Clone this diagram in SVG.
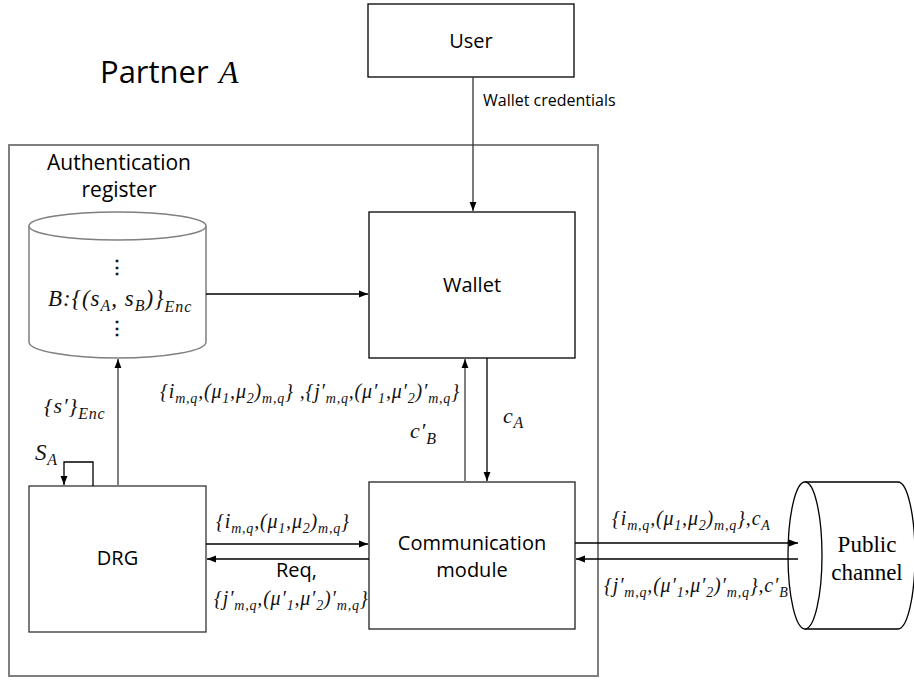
<svg xmlns="http://www.w3.org/2000/svg" width="914" height="680" viewBox="0 0 914 680">
<defs>
<marker id="ah" viewBox="0 0 10 10" refX="10" refY="5" markerWidth="9" markerHeight="9" markerUnits="userSpaceOnUse" orient="auto"><path d="M0,1.2 L10,5 L0,8.8 z" fill="#000"/></marker>
<style>
.box{fill:#fff;stroke:#000;stroke-width:1.3}
.gbox{fill:none;stroke:#7f7f7f;stroke-width:2}
.cyl{fill:#fff;stroke:#7f7f7f;stroke-width:1.5}
.t{font-family:"Open Sans","Liberation Sans",sans-serif;font-size:20px;fill:#000}
.sm{font-size:16px}
.m{font-family:"Liberation Serif",serif;font-style:italic;font-size:20px;fill:#111;letter-spacing:0.8px}
.s{font-size:14px}
.pc{font-family:"Liberation Serif",serif;font-size:23px;fill:#000}
.ln{fill:none;stroke:#000;stroke-width:1.3}
.gl{fill:none;stroke:#7f7f7f;stroke-width:2}
</style>
</defs>

<rect id="partner" class="gbox" x="9" y="145" width="589" height="531"/>
<text class="t" x="100" y="83" style="font-size:31px">Partner<tspan x="219" style="font-family:'Liberation Serif',serif;font-style:italic;font-size:32px">A</tspan></text>

<g id="user">
<rect class="box" x="368" y="4" width="206" height="73"/>
<text class="t" x="471" y="48" text-anchor="middle">User</text>
</g>

<g id="register">
<text class="t" x="119" y="170" text-anchor="middle" style="font-size:21px">Authentication</text>
<text class="t" x="119" y="197" text-anchor="middle" style="font-size:21px">register</text>
<path class="cyl" d="M29,226 V342 A88.5,16 0 0 0 206,342 V226"/>
<ellipse class="cyl" cx="117.5" cy="226" rx="88.5" ry="14"/>
<text class="m" x="117" y="273" text-anchor="middle" style="font-style:normal;font-weight:bold;font-size:18px">⋮</text>
<text class="m" x="48" y="306" style="font-size:23px;letter-spacing:1px">B:{(s<tspan class="s" dy="5" style="font-size:16px">A</tspan><tspan dy="-5">, s</tspan><tspan class="s" dy="5" style="font-size:16px">B</tspan><tspan dy="-5">)}</tspan><tspan class="s" dy="6" style="font-size:16px">Enc</tspan></text>
<text class="m" x="117" y="334" text-anchor="middle" style="font-style:normal;font-weight:bold;font-size:18px">⋮</text>
</g>

<g id="wallet">
<rect class="box" x="369" y="212" width="206" height="146"/>
<text class="t" x="472" y="292" text-anchor="middle">Wallet</text>
</g>

<g id="drg">
<rect class="box" x="29" y="486" width="177" height="146" style="stroke:#333"/>
<text class="t" x="117.5" y="565" text-anchor="middle">DRG</text>
</g>

<g id="comm">
<rect class="box" x="369" y="482" width="206" height="147" style="stroke:#222"/>
<text class="t" x="472" y="550" text-anchor="middle">Communication</text>
<text class="t" x="472" y="577" text-anchor="middle">module</text>
</g>

<g id="public">
<path class="box" d="M805,482 H898 A17,73.5 0 0 1 898,629 H805"/>
<ellipse class="box" cx="805" cy="555.5" rx="17" ry="73.5"/>
<text class="pc" x="867" y="552" text-anchor="middle">Public</text>
<text class="pc" x="867" y="580" text-anchor="middle">channel</text>
</g>

<g id="connectors">
<line class="ln" x1="473" y1="77" x2="473" y2="211" marker-end="url(#ah)" style="stroke:#333"/>
<text class="t sm" x="483" y="106">Wallet credentials</text>

<line class="ln" x1="206" y1="294" x2="368" y2="294" marker-end="url(#ah)"/>

<line class="gl" x1="118" y1="486" x2="118" y2="359" marker-end="url(#ah)"/>
<text class="m" x="44" y="413" style="font-size:22px">{s′}<tspan class="s" dy="6" style="font-size:16px">Enc</tspan></text>

<path class="ln" d="M93,486 V462 H64 V485" marker-end="url(#ah)"/>
<text class="m" x="35" y="460" style="font-size:23px">S<tspan class="s" dy="5" style="font-size:16px">A</tspan></text>

<line class="gl" x1="465" y1="482" x2="465" y2="359" marker-end="url(#ah)"/>
<line class="ln" x1="487" y1="358" x2="487" y2="481" marker-end="url(#ah)"/>
<text class="m" x="160" y="398">{i<tspan class="s" dy="5">m,q</tspan><tspan dy="-5">,(μ</tspan><tspan class="s" dy="5">1</tspan><tspan dy="-5">,μ</tspan><tspan class="s" dy="5">2</tspan><tspan dy="-5">)</tspan><tspan class="s" dy="5">m,q</tspan><tspan dy="-5">} ,{j′</tspan><tspan class="s" dy="5">m,q</tspan><tspan dy="-5">,(μ′</tspan><tspan class="s" dy="5">1</tspan><tspan dy="-5">,μ′</tspan><tspan class="s" dy="5">2</tspan><tspan dy="-5">)′</tspan><tspan class="s" dy="5">m,q</tspan><tspan dy="-5">}</tspan></text>
<text class="m" x="410" y="438" style="font-size:22px">c′<tspan class="s" dy="6" style="font-size:16px">B</tspan></text>
<text class="m" x="503" y="423" style="font-size:22px">c<tspan class="s" dy="5" style="font-size:16px">A</tspan></text>

<line class="ln" x1="206" y1="544" x2="368" y2="544" marker-end="url(#ah)"/>
<line class="ln" x1="369" y1="559" x2="207" y2="559" marker-end="url(#ah)"/>
<text class="m" x="216" y="528">{i<tspan class="s" dy="5">m,q</tspan><tspan dy="-5">,(μ</tspan><tspan class="s" dy="5">1</tspan><tspan dy="-5">,μ</tspan><tspan class="s" dy="5">2</tspan><tspan dy="-5">)</tspan><tspan class="s" dy="5">m,q</tspan><tspan dy="-5">}</tspan></text>
<text class="t" x="276" y="577">Req,</text>
<text class="m" x="214" y="605">{j′<tspan class="s" dy="5">m,q</tspan><tspan dy="-5">,(μ′</tspan><tspan class="s" dy="5">1</tspan><tspan dy="-5">,μ′</tspan><tspan class="s" dy="5">2</tspan><tspan dy="-5">)′</tspan><tspan class="s" dy="5">m,q</tspan><tspan dy="-5">}</tspan></text>

<line class="ln" x1="575" y1="543" x2="798" y2="543" marker-end="url(#ah)"/>
<line class="ln" x1="798" y1="559" x2="576" y2="559" marker-end="url(#ah)"/>
<text class="m" x="612" y="525">{i<tspan class="s" dy="5">m,q</tspan><tspan dy="-5">,(μ</tspan><tspan class="s" dy="5">1</tspan><tspan dy="-5">,μ</tspan><tspan class="s" dy="5">2</tspan><tspan dy="-5">)</tspan><tspan class="s" dy="5">m,q</tspan><tspan dy="-5">},c</tspan><tspan class="s" dy="5">A</tspan></text>
<text class="m" x="604" y="592">{j′<tspan class="s" dy="5">m,q</tspan><tspan dy="-5">,(μ′</tspan><tspan class="s" dy="5">1</tspan><tspan dy="-5">,μ′</tspan><tspan class="s" dy="5">2</tspan><tspan dy="-5">)′</tspan><tspan class="s" dy="5">m,q</tspan><tspan dy="-5">},c′</tspan><tspan class="s" dy="5">B</tspan></text>
</g>
</svg>
